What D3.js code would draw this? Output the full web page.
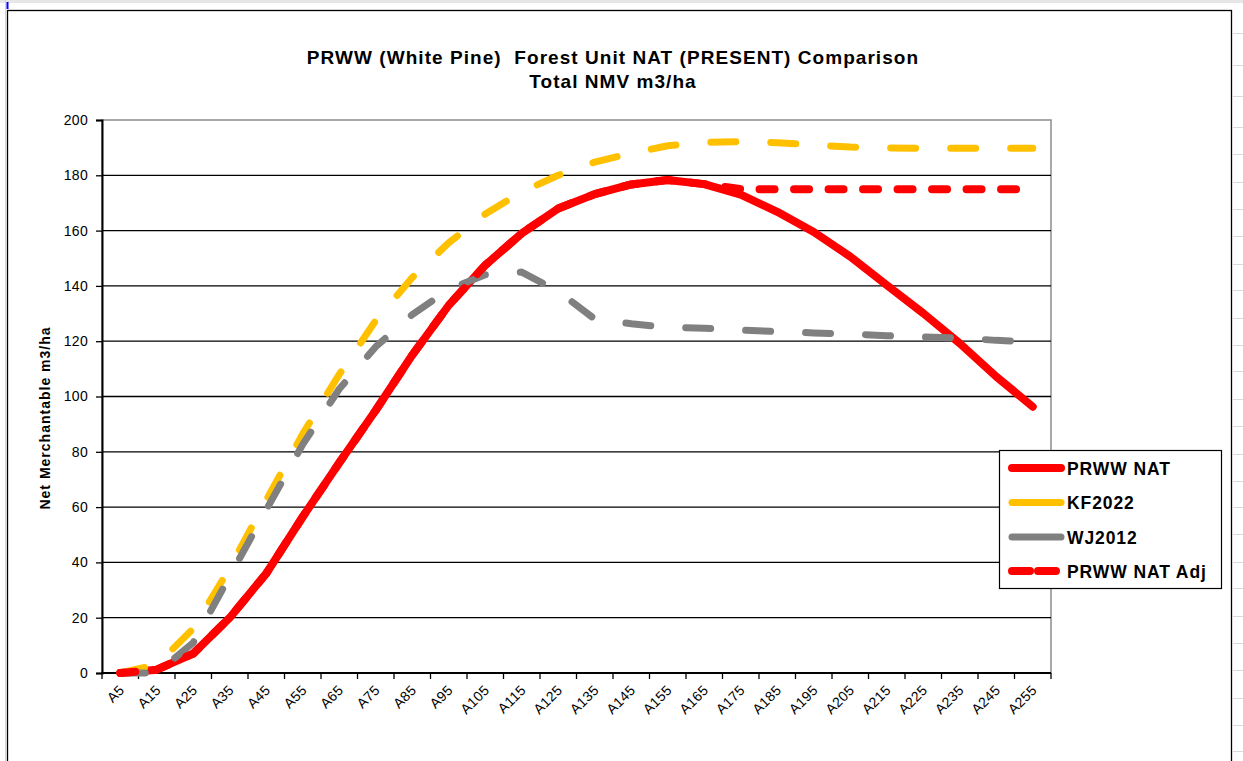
<!DOCTYPE html>
<html>
<head>
<meta charset="utf-8">
<script src="https://cdn.jsdelivr.net/npm/d3@7"></script>
<style>
  html, body { margin: 0; padding: 0; background: #ffffff; }
  svg { display: block; font-family: Arial, "Liberation Sans", sans-serif; }
</style>
</head>
<body>
<svg id="chart" width="1243" height="761"></svg>
<script>
// Age classes along the x axis
const categories = ["A5", "A15", "A25", "A35", "A45", "A55", "A65", "A75", "A85", "A95",
  "A105", "A115", "A125", "A135", "A145", "A155", "A165", "A175", "A185", "A195",
  "A205", "A215", "A225", "A235", "A245", "A255"];

// Net merchantable volume (m3/ha) per series
const prwwNat = [0, 1.2, 7, 20, 36, 56.5, 76, 95, 115, 133, 147.5, 159, 168, 173.2, 176.7,
  178.3, 176.8, 173, 166.8, 159.5, 150.6, 140.3, 130.1, 119.2, 107.2, 96.3];
const kf2022 = [0, 3, 16, 38, 62.5, 86.5, 108, 127.5, 143, 155.6, 166, 174, 180, 184.8, 188,
  190.7, 191.9, 192.2, 191.8, 191, 190.2, 189.9, 189.8, 189.8, 189.8, 189.8];
const wj2012 = [0, 0, 11, 35, 59, 82.7, 102.7, 118, 129.6, 138.7, 144, 145, 138, 128, 126.3,
  125, 124.7, 124, 123.5, 123, 122.6, 122, 121.5, 121.2, 120.3, 119.8];
const prwwNatAdj = [0, 1.2, 7, 20, 36, 56.5, 76, 95, 115, 133, 147.5, 159, 168, 173.2, 176.7,
  178.3, 176.8, 175, 175, 175, 175, 175, 175, 175, 175, 175];

const yTicks = [0, 20, 40, 60, 80, 100, 120, 140, 160, 180, 200];

const seriesNames = ["PRWW NAT", "KF2022", "WJ2012", "PRWW NAT Adj"];

const titleLines = ["PRWW (White Pine)  Forest Unit NAT (PRESENT) Comparison", "Total NMV m3/ha"];
const yTitle = "Net Merchantable m3/ha";

// Row separators of the worksheet visible to the right of the chart object
const sheetRowLines = [33, 65, 96, 127, 154, 182, 209, 236, 264, 290, 318, 345, 371, 399,
  426, 454, 481, 507, 534, 562, 588, 616, 643, 670, 698, 725, 751];

const styles = [
  { color: "#ff0000", width: 8, dash: null },
  { color: "#ffc000", width: 7, dash: "25,35" },
  { color: "#808080", width: 7, dash: "25,35" },
  { color: "#ff0000", width: 8, dash: "15,19.5" }
];
const seriesValues = [prwwNat, kf2022, wj2012, prwwNatAdj];

const svg = d3.select("#chart");

// worksheet backdrop
svg.append("rect").attr("x", 0).attr("y", 0).attr("width", 1243).attr("height", 3).attr("fill", "#e6e6e6");
svg.append("line").attr("x1", 5.5).attr("x2", 5.5).attr("y1", 0).attr("y2", 761).attr("stroke", "#d4d4d4");
svg.selectAll("line.sheetrow").data(sheetRowLines).enter().append("line")
  .attr("class", "sheetrow")
  .attr("x1", 1233).attr("x2", 1243)
  .attr("y1", d => d + 0.5).attr("y2", d => d + 0.5)
  .attr("stroke", "#d9d9d9");
svg.append("rect").attr("x", 6.5).attr("y", 2).attr("width", 2).attr("height", 7).attr("fill", "#0000ff");

// chart object frame
svg.append("rect").attr("x", 7.5).attr("y", 10.5).attr("width", 1224).attr("height", 770)
  .attr("fill", "#ffffff").attr("stroke", "#000000").attr("stroke-width", 1.3);

const plot = { left: 102, right: 1051, top: 120, bottom: 673 };

const x = d3.scaleBand().domain(categories).range([plot.left, plot.right]).padding(0);
const y = d3.scaleLinear().domain([0, 200]).range([plot.bottom, plot.top]);
const cx = c => x(c) + x.bandwidth() / 2;

// plot area outline (top and right in grey)
svg.append("rect").attr("x", plot.left).attr("y", plot.top)
  .attr("width", plot.right - plot.left).attr("height", plot.bottom - plot.top)
  .attr("fill", "none").attr("stroke", "#8c8c8c").attr("stroke-width", 1.5);

// horizontal gridlines
svg.append("g").selectAll("line").data(yTicks.filter(v => v > 0 && v < 200)).enter().append("line")
  .attr("x1", plot.left).attr("x2", plot.right)
  .attr("y1", d => y(d)).attr("y2", d => y(d))
  .attr("stroke", "#000000").attr("stroke-width", 1.3);

// y axis
const yAxis = svg.append("g").attr("transform", `translate(${plot.left},0)`)
  .call(d3.axisLeft(y).tickValues(yTicks).tickSize(6).tickPadding(8).tickFormat(d3.format("d")));
yAxis.select(".domain").attr("stroke", "#000").attr("stroke-width", 2);
yAxis.selectAll(".tick line").attr("stroke", "#000").attr("stroke-width", 1.3);
yAxis.selectAll(".tick text").attr("font-size", 14).attr("letter-spacing", 0.3)
  .attr("font-family", "Arial, 'Liberation Sans', sans-serif").attr("fill", "#000");

// x axis: labels under each age class, tick marks on class boundaries
const xAxis = svg.append("g").attr("transform", `translate(0,${plot.bottom})`)
  .call(d3.axisBottom(x).tickSize(0).tickPadding(0));
xAxis.select(".domain").remove();
xAxis.selectAll(".tick text")
  .attr("font-size", 14).attr("letter-spacing", 0.3)
  .attr("font-family", "Arial, 'Liberation Sans', sans-serif").attr("fill", "#000")
  .attr("text-anchor", "end").attr("dy", null).attr("y", null)
  .attr("transform", "translate(5,18) rotate(-45)");

const boundaries = categories.map(c => x(c)).concat([x.range()[1]]);
svg.append("g").selectAll("line").data(boundaries).enter().append("line")
  .attr("x1", d => d).attr("x2", d => d)
  .attr("y1", plot.bottom).attr("y2", plot.bottom + 6)
  .attr("stroke", "#000").attr("stroke-width", 1.3);
svg.append("line").attr("x1", plot.left - 1).attr("x2", plot.right)
  .attr("y1", plot.bottom).attr("y2", plot.bottom)
  .attr("stroke", "#000").attr("stroke-width", 2.2);

// series lines
const line = d3.line().x((d, i) => cx(categories[i])).y(d => y(d));
seriesValues.forEach((vals, k) => {
  const s = styles[k];
  const p = svg.append("path").datum(vals)
    .attr("d", line)
    .attr("fill", "none")
    .attr("stroke", s.color)
    .attr("stroke-width", s.width)
    .attr("stroke-linecap", "round")
    .attr("stroke-linejoin", "round");
  if (s.dash) p.attr("stroke-dasharray", s.dash);
});

// titles
const title = svg.append("text").attr("text-anchor", "middle")
  .attr("font-weight", "bold").attr("font-size", 19).attr("letter-spacing", 1.05)
  .style("white-space", "pre");
title.append("tspan").attr("x", 613).attr("y", 64).text(titleLines[0]);
title.append("tspan").attr("x", 613).attr("y", 88).text(titleLines[1]);

svg.append("text")
  .attr("transform", "translate(50,418) rotate(-90)")
  .attr("text-anchor", "middle").attr("font-weight", "bold")
  .attr("font-size", 14).attr("letter-spacing", 1)
  .text(yTitle);

// legend
const legend = svg.append("g");
legend.append("rect").attr("x", 999.5).attr("y", 450.5).attr("width", 222).attr("height", 138)
  .attr("fill", "#ffffff").attr("stroke", "#000").attr("stroke-width", 1.2);
const legendRows = [468, 502.5, 537, 571];
seriesNames.forEach((name, k) => {
  const s = styles[k];
  const ly = legendRows[k];
  const l = legend.append("line").attr("x1", 1012).attr("x2", 1061)
    .attr("y1", ly).attr("y2", ly)
    .attr("stroke", s.color).attr("stroke-width", s.width)
    .attr("stroke-linecap", "round");
  if (k === 3) l.attr("stroke-dasharray", "18,8");
  legend.append("text").attr("x", 1067).attr("y", ly + 6.5)
    .attr("font-weight", "bold").attr("font-size", 17.5).attr("letter-spacing", 0.9)
    .text(name);
});
</script>
</body>
</html>
